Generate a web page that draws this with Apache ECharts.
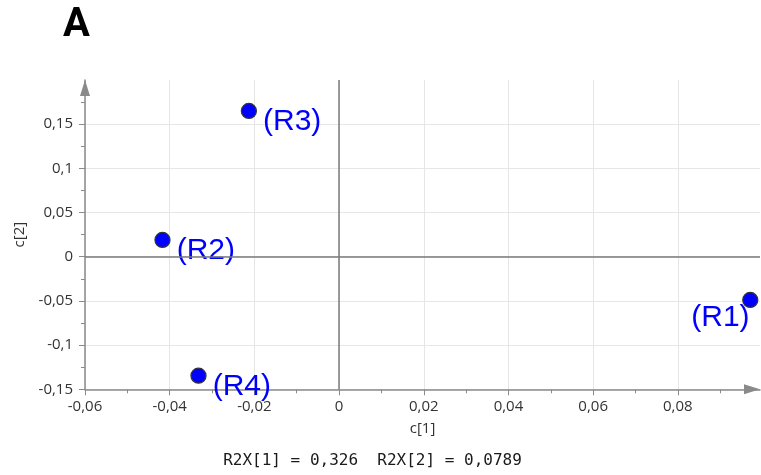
<!DOCTYPE html>
<html><head><meta charset="utf-8">
<script src="https://cdn.jsdelivr.net/npm/echarts@6/dist/echarts.min.js"></script>
<style>html,body{margin:0;padding:0;background:#fff}#c{width:761px;height:475px}</style>
</head><body><div id="c"></div>
<script>
const pointNames = ['(R1)', '(R2)', '(R3)', '(R4)'];
const c1Values = [0.0971, -0.0417, -0.0213, -0.0332];
const c2Values = [-0.0489, 0.0190, 0.165, -0.1346];
const xTickValues = [-0.06, -0.04, -0.02, 0, 0.02, 0.04, 0.06, 0.08];
const xMinorValues = [-0.05, -0.03, -0.01, 0.01, 0.03, 0.05, 0.07, 0.09];
const yTickValues = [-0.15, -0.1, -0.05, 0, 0.05, 0.1, 0.15];
const yMinorValues = [-0.125, -0.075, -0.025, 0.025, 0.075, 0.125, 0.175];
const panelTitle = 'A';
const xName = 'c[1]';
const yName = 'c[2]';
const footerText = 'R2X[1] = 0,326  R2X[2] = 0,0789';

const X_MIN = -0.06, X_MAX = 0.0994, Y_MIN = -0.15, Y_MAX = 0.2;
const axisGray = '#8a8a8a';
const labelFont = { fontFamily: 'Open Sans', fontSize: 15, color: '#333333' };
const fmt = v => String(+v.toFixed(4)).replace('.', ',');
const gridRect = { left: 85, top: 80, width: 675, height: 309.3 };

const chart = echarts.init(document.getElementById('c'), null, { renderer: 'canvas' });

const data = pointNames.map((n, i) => {
  const item = { name: n, value: [c1Values[i], c2Values[i]] };
  if (c1Values[i] > 0.09) {
    item.label = { position: 'left', distance: 0, offset: [7.5, 18] };
  }
  return item;
});

chart.setOption({
  animation: false,
  grid: [
    Object.assign({}, gridRect),
    Object.assign({}, gridRect)
  ],
  graphic: [
    { type: 'text', left: 63, top: 6, style: { text: panelTitle, font: 'bold 40px Roboto', fill: '#000' } },
    { type: 'text', x: 372.5, y: 461, style: { text: footerText, font: '16px "DejaVu Sans Mono"', fill: '#1a1a1a', align: 'center', verticalAlign: 'middle' } }
  ],
  xAxis: [
    {
      type: 'value', gridIndex: 0, min: X_MIN, max: X_MAX, position: 'bottom',
      name: xName, nameLocation: 'middle', nameGap: 32,
      nameTextStyle: labelFont,
      axisLine: { show: true, onZero: false, symbol: ['none', 'triangle'], symbolSize: [10, 16], symbolOffset: [0, -8], lineStyle: { color: axisGray, width: 1.5 } },
      axisTick: { show: true, customValues: xTickValues, length: 6, lineStyle: { color: axisGray, width: 1 } },
      axisLabel: Object.assign({ customValues: xTickValues, margin: 10, formatter: fmt }, labelFont),
      splitLine: { show: true, lineStyle: { color: '#e6e6e6', width: 1 } }
    },
    {
      type: 'value', gridIndex: 1, min: X_MIN, max: X_MAX, position: 'bottom',
      axisLine: { show: false, onZero: false },
      axisTick: { show: true, customValues: xMinorValues, length: 4, lineStyle: { color: axisGray, width: 1 } },
      axisLabel: { show: false },
      splitLine: { show: false }
    }
  ],
  yAxis: [
    {
      type: 'value', gridIndex: 0, min: Y_MIN, max: Y_MAX, position: 'left',
      name: yName, nameLocation: 'middle', nameGap: 34,
      nameTextStyle: labelFont,
      axisLine: { show: true, onZero: false, symbol: ['none', 'triangle'], symbolSize: [10, 16], symbolOffset: [0, -8], lineStyle: { color: axisGray, width: 1.5 } },
      axisTick: { show: true, customValues: yTickValues, length: 6, lineStyle: { color: axisGray, width: 1 } },
      axisLabel: Object.assign({ customValues: yTickValues, margin: 12, formatter: fmt }, labelFont),
      splitLine: { show: true, lineStyle: { color: '#e6e6e6', width: 1 } }
    },
    {
      type: 'value', gridIndex: 1, min: Y_MIN, max: Y_MAX, position: 'left',
      axisLine: { show: false, onZero: false },
      axisTick: { show: true, customValues: yMinorValues, length: 4, lineStyle: { color: axisGray, width: 1 } },
      axisLabel: { show: false },
      splitLine: { show: false }
    }
  ],
  series: [{
    type: 'scatter', xAxisIndex: 0, yAxisIndex: 0,
    symbol: 'circle', symbolSize: 15,
    itemStyle: { color: '#0000ff', borderColor: '#333', borderWidth: 1.3, opacity: 1 },
    label: {
      show: true, formatter: '{b}', position: 'right', distance: 6, offset: [0, 11],
      fontFamily: 'Liberation Sans', fontSize: 30, color: '#0000ff'
    },
    markLine: {
      silent: true, symbol: ['none', 'none'], label: { show: false },
      lineStyle: { color: '#7a7a7a', type: 'solid', width: 1.5 },
      data: [{ xAxis: 0 }, { yAxis: 0 }]
    },
    data: data
  }]
});
</script></body></html>
